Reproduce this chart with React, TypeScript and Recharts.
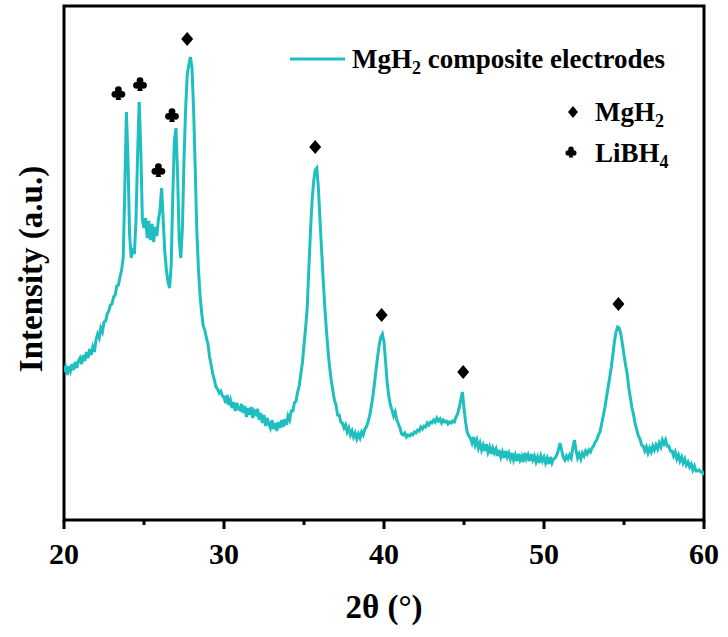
import React from 'react';
import { ComposedChart, Line, Scatter, XAxis, YAxis, ReferenceArea, Legend } from 'recharts';

const TEAL = '#1fbfbf';
const SERIF = "'Liberation Serif', 'Times New Roman', serif";

// 2θ grid of the scan
const THETA_START = 20;
const THETA_STEP = 0.1;

// Intensity (a.u.), one row per degree: 20.0–20.9, 21.0–21.9, ... , 60.0
const intensity = [
  148, 153, 145, 154, 149, 156, 150, 158, 152, 159,
  162, 156, 165, 159, 168, 162, 171, 165, 173, 168,
  180, 186, 182, 192, 188, 198, 199, 206, 209, 215,
  216, 223, 225, 234, 235, 243, 250, 262, 330, 408,
  360, 285, 262, 272, 266, 300, 365, 418, 370, 300,
  292, 302, 282, 299, 280, 296, 278, 293, 284, 300,
  310, 332, 300, 268, 250, 238, 232, 255, 325, 380,
  392, 345, 280, 262, 292, 360, 410, 445, 455, 463,
  452, 410, 352, 290, 252, 225, 208, 194, 190, 182,
  176, 163, 155, 146, 140, 133, 131, 127, 129, 124,
  123, 117, 125, 115, 120, 112, 118, 109, 117, 111,
  110, 116, 107, 114, 103, 112, 105, 113, 102, 109,
  106, 111, 100, 107, 97, 105, 94, 102, 96, 92,
  100, 91, 97, 89, 98, 92, 100, 93, 101, 95,
  104, 100, 109, 109, 117, 119, 128, 134, 146, 157,
  175, 192, 212, 250, 287, 318, 338, 350, 352, 332,
  300, 270, 240, 213, 190, 170, 153, 140, 130, 120,
  115, 105, 105, 98, 97, 92, 95, 88, 92, 85,
  89, 83, 87, 81, 86, 82, 88, 85, 91, 93,
  98, 104, 113, 123, 136, 150, 163, 175, 183, 186,
  178, 158, 137, 124, 115, 110, 104, 108, 100, 96,
  92, 86, 85, 87, 83, 85, 84, 86, 85, 88,
  87, 90, 89, 93, 91, 94, 93, 97, 95, 98,
  97, 100, 98, 102, 99, 101, 97, 100, 98, 99,
  96, 98, 97, 99, 98, 103, 106, 112, 120, 128,
  112, 98, 88, 84, 82, 77, 83, 75, 80, 72,
  77, 70, 75, 69, 76, 68, 73, 66, 72, 67,
  71, 64, 70, 63, 68, 62, 69, 63, 67, 61,
  67, 60, 65, 59, 66, 60, 64, 58, 67, 61,
  65, 59, 66, 60, 64, 58, 63, 57, 64, 59,
  63, 57, 62, 56, 63, 57, 61, 62, 65, 70,
  77, 70, 63, 60, 64, 61, 65, 62, 72, 80,
  70, 62, 66, 61, 67, 64, 69, 66, 70, 68,
  72, 74, 78, 80, 85, 88, 96, 104, 112, 122,
  132, 142, 152, 165, 178, 188, 193, 192, 186, 176,
  165, 155, 146, 132, 122, 112, 105, 96, 90, 84,
  81, 75, 74, 69, 73, 67, 72, 68, 74, 70,
  75, 71, 77, 73, 80, 76, 80, 74, 74, 69,
  69, 64, 68, 61, 65, 59, 63, 57, 61, 55,
  58, 53, 56, 50, 54, 49, 49, 50, 48, 48,
  45,
];

// Reflection markers (position, marker height)
const mgh2Theta = [27.7, 35.7, 39.85, 44.95, 54.65];
const mgh2Mark = [481, 373, 205, 148, 216];
const libh4Theta = [23.4, 24.75, 25.9, 26.75];
const libh4Mark = [427, 436, 350, 405];

const xTicks = [20, 25, 30, 35, 40, 45, 50, 55, 60];
const yDomain = [0, 514];

const scan = intensity.map((v, i) => ({
  theta: +(THETA_START + i * THETA_STEP).toFixed(1),
  v,
}));
const mgh2Points = mgh2Theta.map((theta, i) => ({ theta, v: mgh2Mark[i] }));
const libh4Points = libh4Theta.map((theta, i) => ({ theta, v: libh4Mark[i] }));

const Diamond = ({ cx, cy, w = 6, h = 7 }: any) => (
  <polygon
    points={`${cx},${cy - h} ${cx + w},${cy} ${cx},${cy + h} ${cx - w},${cy}`}
    fill="#000"
  />
);

const Club = ({ cx, cy, s = 1 }: any) => (
  <g transform={`translate(${cx},${cy}) scale(${s})`} fill="#000">
    <circle cx={0} cy={-3.4} r={3.4} />
    <circle cx={-3.5} cy={1.3} r={3.4} />
    <circle cx={3.5} cy={1.3} r={3.4} />
    <rect x={-1.6} y={-2} width={3.2} height={4} />
    <polygon points="-1,1 1,1 2.8,7 -2.8,7" />
  </g>
);

const XTick = ({ x, y, payload }: any) => {
  const major = payload.value % 10 === 0;
  return (
    <g>
      <line x1={x} x2={x} y1={y} y2={y + (major ? 9 : 5)} stroke="#000" strokeWidth={3} />
      {major && (
        <text
          x={x}
          y={y + 44}
          textAnchor="middle"
          fontFamily={SERIF}
          fontWeight="bold"
          fontSize={30}
          fill="#000"
        >
          {payload.value}
        </text>
      )}
    </g>
  );
};

const XTitle = ({ viewBox }: any) => (
  <text
    x={viewBox.x + viewBox.width / 2}
    y={viewBox.y + 98}
    textAnchor="middle"
    fontFamily={SERIF}
    fontWeight="bold"
    fontSize={33}
    fill="#000"
  >
    2θ (°)
  </text>
);

const YTitle = ({ viewBox }: any) => {
  const cx = viewBox.x + 42;
  const cy = viewBox.y + viewBox.height / 2 + 6;
  return (
    <text
      x={cx}
      y={cy}
      transform={`rotate(-90, ${cx}, ${cy})`}
      textAnchor="middle"
      fontFamily={SERIF}
      fontWeight="bold"
      fontSize={33}
      fill="#000"
    >
      Intensity (a.u.)
    </text>
  );
};

const LegendBox = () => (
  <div style={{ position: 'relative', width: 0, height: 0 }}>
    <svg
      width={728}
      height={180}
      style={{ position: 'absolute', left: 0, top: 0, overflow: 'visible' }}
    >
      <line x1={290} x2={345} y1={59} y2={59} stroke={TEAL} strokeWidth={3} />
      <text x={352} y={68} fontFamily={SERIF} fontWeight="bold" fontSize={27} fill="#000">
        MgH<tspan fontSize={18} dy={6}>2</tspan>
        <tspan dy={-6}> composite electrodes</tspan>
      </text>
      <Diamond cx={573} cy={112} w={5} h={6} />
      <text x={595} y={121} fontFamily={SERIF} fontWeight="bold" fontSize={27} fill="#000">
        MgH<tspan fontSize={18} dy={6}>2</tspan>
      </text>
      <Club cx={571} cy={152} s={0.8} />
      <text x={595} y={162} fontFamily={SERIF} fontWeight="bold" fontSize={27} fill="#000">
        LiBH<tspan fontSize={18} dy={6}>4</tspan>
      </text>
    </svg>
  </div>
);

export default function App() {
  return (
    <div style={{ position: 'absolute', left: 0, top: 0, background: '#fff' }}>
      <ComposedChart
        width={728}
        height={637}
        margin={{ top: 6, right: 24, bottom: 17, left: 0 }}
      >
        <XAxis
          dataKey="theta"
          type="number"
          domain={[20, 60]}
          ticks={xTicks}
          interval={0}
          allowDataOverflow
          axisLine={false}
          tickLine={false}
          tickSize={0}
          tickMargin={0}
          tick={<XTick />}
          height={100}
          label={<XTitle />}
        />
        <YAxis
          type="number"
          domain={yDomain}
          allowDataOverflow
          width={64}
          tick={false}
          tickLine={false}
          axisLine={false}
          label={<YTitle />}
        />
        <Line
          data={scan}
          dataKey="v"
          stroke={TEAL}
          strokeWidth={3}
          strokeLinejoin="miter"
          dot={false}
          type="linear"
          isAnimationActive={false}
          legendType="line"
        />
        <Scatter
          data={libh4Points}
          dataKey="v"
          isAnimationActive={false}
          shape={(p: any) => <Club cx={p.cx} cy={p.cy} />}
        />
        <Scatter
          data={mgh2Points}
          dataKey="v"
          isAnimationActive={false}
          shape={(p: any) => <Diamond cx={p.cx} cy={p.cy} />}
        />
        <ReferenceArea
          x1={20}
          x2={60}
          y1={0}
          y2={514}
          fill="none"
          fillOpacity={0}
          stroke="#000"
          strokeWidth={3}
          ifOverflow="visible"
        />
        <Legend
          content={<LegendBox />}
          wrapperStyle={{ position: 'absolute', left: 0, top: 0, width: 0, height: 0 }}
        />
      </ComposedChart>
    </div>
  );
}
